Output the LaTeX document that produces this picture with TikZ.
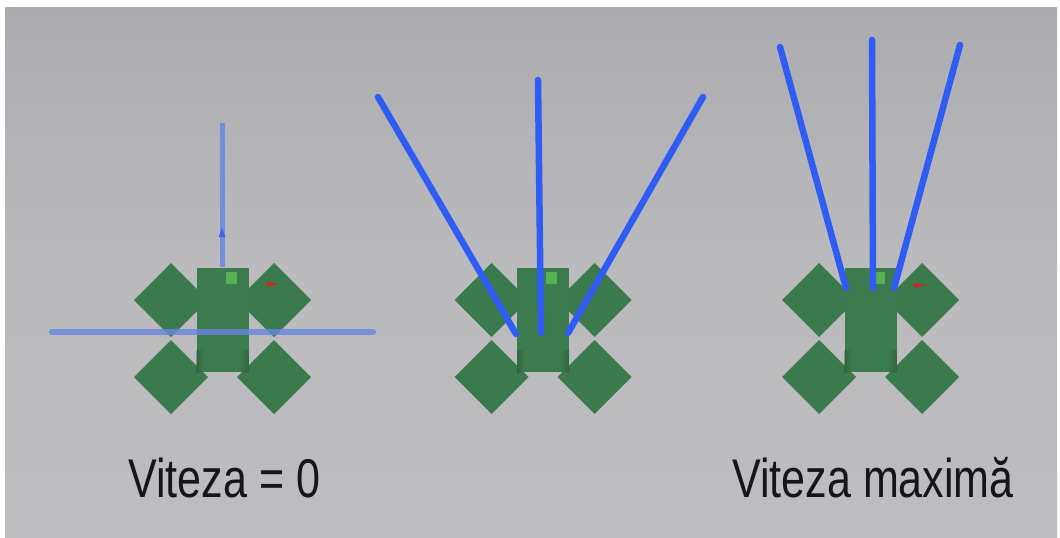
\documentclass[tikz,border=0pt]{standalone}
\usepackage{fontspec}
\setmainfont{Liberation Sans}
\definecolor{paper}{RGB}{189,189,192}
\definecolor{papertop}{RGB}{172,172,176}
\definecolor{paperlow}{RGB}{187,187,190}
\definecolor{wheelgreen}{RGB}{58,122,76}
\definecolor{bodygreen}{RGB}{60,123,77}
\definecolor{bodydark}{RGB}{30,64,40}
\definecolor{sensorgreen}{RGB}{86,178,84}
\definecolor{markred}{RGB}{205,40,40}
\definecolor{beamblue}{RGB}{46,92,245}
\definecolor{faintblue}{RGB}{104,134,226}
\definecolor{inkblack}{RGB}{22,22,24}
\tikzset{
  wheel/.style={fill=wheelgreen},
  chassis/.style={fill=bodygreen},
  beam/.style={draw=beamblue, line width=6.5pt, line cap=round},
  faintbeam/.style={draw=faintblue, line width=6.5pt, line cap=round, opacity=0.8},
  caption/.style={anchor=base west, inner sep=0pt, text=inkblack,
    font=\fontsize{54.5}{60}\selectfont},
  robot/.pic={
    % four diamond wheels
    \foreach \dx/\dy in {-51.5/300,51.5/300,-51.5/377,51.5/377}
      \fill[wheel] (\dx-37,\dy) -- (\dx,\dy-37) -- (\dx+37,\dy) -- (\dx,\dy+37) -- cycle;
    % chassis, slightly darker towards its lower corners
    \fill[chassis] (-26,268) rectangle (26,372);
    \shade[left color=bodydark, right color=bodygreen, opacity=.35] (-26,350) rectangle (-19,372);
    \shade[left color=bodygreen, right color=bodydark, opacity=.35] (18,350) rectangle (26,372);
    % sensor
    \fill[sensorgreen] (3,272) rectangle (14,284);
  }
}
\begin{document}
\begin{tikzpicture}[x=1pt,y=-1pt]
% canvas and paper background
\fill[white] (0,0) rectangle (1060,538);
\shade[top color=papertop, bottom color=paperlow] (5,7) rectangle (1057,270);
\shade[top color=paperlow, bottom color=paper] (5,270) rectangle (1057,538);
\useasboundingbox (0,0) rectangle (1060,538);

% robot at rest
\pic at (222.5,0) {robot};
\fill[markred] (267,282) -- (279,284) -- (267,287) -- cycle;
\draw[faintbeam] (52,332) -- (373,332);
\draw[draw=faintblue, line width=5pt, opacity=.85] (222,123) -- (222,267);
\fill[faintblue!70!blue] (222,228) -- (225.5,237) -- (218.5,237) -- cycle;

% robot at medium speed
\pic at (543,0) {robot};
\draw[beam] (378,97) -- (516,334);
\draw[beam] (538,80) -- (541,333);
\draw[beam] (703,97) -- (568,333);

% robot at full speed
\pic at (870.5,0) {robot};
\fill[markred] (914,283) -- (926,285) -- (914,288) -- cycle;
\draw[beam] (780,47) -- (846,288);
\draw[beam] (872,40) -- (873,288);
\draw[beam] (960,45) -- (894,288);

% captions
\node[caption] (rest) at (128,497) {\scalebox{0.79}[1]{Viteza = 0}};
\node[caption] (full) at (732,497) {\scalebox{0.79}[1]{Viteza maximă}};
\end{tikzpicture}
\end{document}
